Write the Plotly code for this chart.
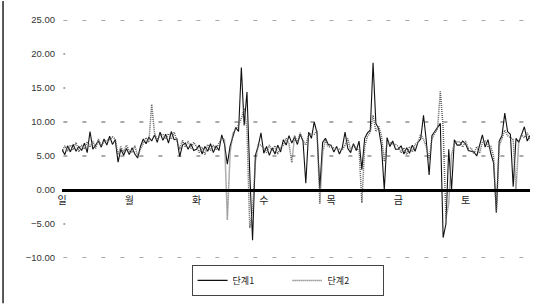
import plotly.graph_objects as go

days = ["일", "월", "화", "수", "목", "금", "토"]
points_per_day = 24

stage1 = [
    # 일
    6.0, 5.2, 6.5, 5.6, 6.7, 5.7, 6.4, 5.8, 6.9, 5.5, 8.6, 6.0, 6.6, 7.2, 6.3, 7.5, 6.6, 7.9, 6.7, 7.4, 4.1, 6.0, 5.1, 6.1,
    # 월
    5.2, 6.2, 5.3, 4.7, 6.4, 7.5, 6.8, 7.8, 7.2, 8.1, 7.0, 8.5, 7.3, 8.2, 6.9, 8.6, 7.4, 7.5, 4.9, 6.6, 6.9, 6.0, 6.8, 5.8,
    # 화
    6.0, 6.6, 5.3, 6.4, 5.7, 6.8, 5.5, 6.5, 5.8, 8.1, 6.7, 3.8, 6.5, 8.0, 9.2, 8.6, 18.0, 9.5, 14.4, 2.5, -7.4, 5.1, 6.4, 8.4,
    # 수
    5.4, 6.4, 5.1, 6.2, 5.3, 6.6, 5.6, 7.4, 6.6, 8.0, 6.9, 7.8, 6.7, 8.2, 7.2, 1.0, 8.5, 7.6, 10.0, 8.4, 0.2, 7.0, 7.6, 6.7,
    # 목
    6.6, 5.6, 6.4, 5.3, 6.2, 8.5, 6.1, 5.5, 6.8, 5.8, 7.2, 3.0, 7.6, 8.4, 8.8, 18.7, 9.8, 9.0, 6.5, 0.0, 7.7, 6.4, 7.2, 6.0,
    # 금
    6.0, 6.5, 5.3, 6.2, 5.4, 6.6, 5.7, 7.0, 7.5, 11.0, 7.2, 2.2, 8.0, 8.6, 9.2, 9.8, -7.0, -5.0, 6.0, 0.0, 7.4, 6.6, 6.6, 7.2,
    # 토
    6.8, 5.8, 5.7, 5.6, 5.0, 6.4, 8.1, 6.3, 7.4, 5.4, 4.0, -3.3, 7.2, 8.0, 11.3, 8.6, 8.2, 0.5, 7.6, 7.0, 8.2, 9.3, 7.2, 8.0,
]

stage2 = [
    # 일
    5.6, 6.5, 5.7, 6.6, 5.9, 7.0, 5.6, 6.6, 6.0, 7.1, 6.3, 7.2, 6.1, 7.5, 6.5, 7.1, 7.3, 7.4, 7.8, 7.5, 5.2, 6.4, 5.6, 6.6,
    # 월
    5.7, 5.5, 6.5, 5.0, 6.0, 6.9, 7.7, 7.0, 12.6, 8.4, 7.4, 8.1, 8.2, 7.5, 8.3, 7.5, 8.5, 7.3, 6.0, 7.3, 6.3, 7.2, 6.1, 7.0,
    # 화
    6.4, 5.5, 6.3, 5.2, 6.7, 5.8, 6.6, 5.9, 6.9, 7.6, 7.5, -4.4, 5.5, 8.4, 8.9, 9.6, 10.5, 12.0, 9.0, -5.6, -3.0, 4.2, 6.6, 6.6,
    # 수
    6.2, 5.5, 6.6, 5.7, 6.5, 5.3, 6.3, 6.6, 7.6, 6.8, 4.0, 8.0, 7.0, 8.4, 7.3, 6.6, 8.1, 8.3, 8.2, 8.8, -2.0, 5.5, 7.3, 6.4,
    # 목
    6.3, 6.3, 6.1, 6.1, 5.9, 6.6, 7.6, 5.8, 6.7, 6.0, 6.0, -1.9, 6.4, 7.9, 8.5, 11.0, 8.6, 9.4, 8.0, 4.2, 7.0, 7.0, 6.7, 6.7,
    # 금
    6.4, 5.5, 6.2, 5.2, 6.4, 5.6, 6.7, 7.0, 8.2, 7.4, 6.4, 4.5, 7.5, 8.3, 9.0, 14.5, 9.2, -4.2, -2.0, 5.2, 6.8, 7.1, 7.1, 6.3,
    # 토
    7.2, 6.1, 6.2, 5.3, 6.4, 5.4, 7.0, 7.3, 6.3, 6.4, 5.0, -3.3, 6.5, 7.6, 8.8, 8.0, 7.7, 7.4, 0.0, 7.2, 8.1, 7.7, 8.4, 7.3,
]

y_ticks = [-10, -5, 0, 5, 10, 15, 20, 25]
grid_levels = [25, 10, 5, -10]

x = list(range(len(stage1)))
tick_pos = [i * points_per_day for i in range(len(days))]

fig = go.Figure()
fig.add_trace(go.Scatter(x=x, y=stage1, mode="lines", name="단계1",
                         line=dict(color="#111111", width=1.1)))
fig.add_trace(go.Scatter(x=x, y=stage2, mode="lines", name="단계2",
                         line=dict(color="#5e5e5e", width=1.5, dash="1px,1px")))

shapes = []
for g in grid_levels:
    shapes.append(dict(type="line", xref="paper", yref="y", x0=0.003, x1=1, y0=g, y1=g,
                       line=dict(color="#555555", width=1, dash="4px,15px"), layer="below"))
for g in [20, 15, -5]:
    shapes.append(dict(type="line", xref="paper", yref="y", x0=0.003, x1=0.007, y0=g, y1=g,
                       line=dict(color="#555555", width=1), layer="below"))
# page border line at left edge
shapes.append(dict(type="line", xref="paper", yref="paper", x0=-0.126, x1=-0.126,
                   y0=-0.19, y1=1.08, line=dict(color="#222222", width=1.5)))

fig.update_layout(
    width=535, height=304,
    margin=dict(l=62, r=5, t=20, b=46, autoexpand=False),
    paper_bgcolor="white", plot_bgcolor="white",
    font=dict(family="Arial, Liberation Sans, Noto Sans CJK KR", size=10, color="#333333"),
    shapes=shapes,
    showlegend=True,
    legend=dict(orientation="h", x=0.482, xanchor="center", y=-0.029, yanchor="top",
                bordercolor="#444444", borderwidth=1,
                font=dict(family="Noto Sans CJK KR", size=9, color="#222222"),
                entrywidth=50, itemwidth=30, tracegroupgap=0),
    xaxis=dict(range=[0, len(stage1) - 1], tickvals=tick_pos, ticktext=days,
               showgrid=False, zeroline=False, showline=True, linecolor="#000000", linewidth=3,
               anchor="free", position=10 / 35, ticks="",
               tickfont=dict(family="Noto Sans CJK KR", size=10, color="#222222")),
    yaxis=dict(range=[-10, 25], tickvals=y_ticks, tickformat=".2f",
               showgrid=False, zeroline=False, showline=False, ticks="", ticklabelstandoff=6,
               tickfont=dict(family="Arial, Liberation Sans", size=9.5, color="#333333")),
)

fig.write_html("out.html", config={"displayModeBar": False},
               post_script="document.body.style.margin='0';")
